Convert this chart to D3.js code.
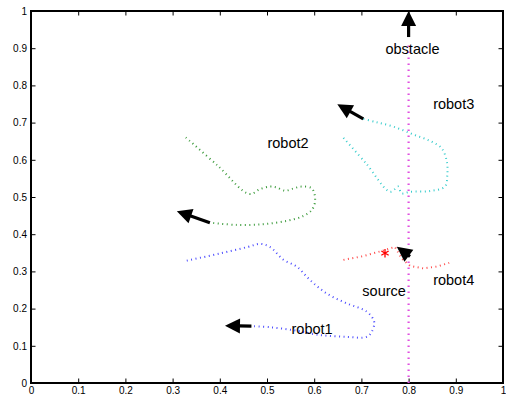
<!DOCTYPE html>
<html>
<head>
<meta charset="utf-8">
<script src="https://cdn.jsdelivr.net/npm/d3@7"></script>
<style>
  html, body { margin: 0; padding: 0; background: #fff; }
  svg { display: block; }
  text { font-family: "Liberation Sans", Arial, Helvetica, sans-serif; fill: #000; }
</style>
</head>
<body>
<svg id="chart" width="506" height="398"></svg>
<script>
// Robot trajectories in the unit field (x, y)
const robot1 = [[0.330,0.329],[0.400,0.348],[0.460,0.366],[0.485,0.374],[0.506,0.366],[0.535,0.331],
  [0.563,0.313],[0.591,0.277],[0.626,0.241],[0.669,0.214],[0.711,0.192],[0.727,0.165],[0.722,0.138],
  [0.711,0.124],[0.669,0.124],[0.612,0.129],[0.556,0.142],[0.506,0.150],[0.468,0.153]];
const robot2 = [[0.328,0.660],[0.395,0.585],[0.4625,0.508],[0.485,0.521],[0.507,0.528],[0.520,0.526],
  [0.538,0.517],[0.556,0.523],[0.573,0.528],[0.595,0.523],[0.602,0.492],[0.595,0.465],[0.577,0.449],
  [0.542,0.436],[0.492,0.427],[0.436,0.425],[0.379,0.431]];
const robot3 = [[0.662,0.659],[0.710,0.590],[0.761,0.514],[0.778,0.528],[0.785,0.510],[0.803,0.514],
  [0.845,0.516],[0.877,0.528],[0.882,0.559],[0.881,0.595],[0.870,0.631],[0.845,0.651],[0.810,0.668],
  [0.768,0.689],[0.732,0.701],[0.704,0.710]];
const robot4 = [[0.662,0.331],[0.704,0.341],[0.746,0.356],[0.771,0.366],[0.785,0.335],[0.803,0.315],
  [0.831,0.308],[0.860,0.313],[0.886,0.323]];

// Obstacle: vertical line at x = 0.8
const obstacleX = 0.8;
const obstacleY = [0, 0.915];

// Source location
const source = [0.75, 0.349];

// Heading arrows: [tailX, tailY, tipX, tipY]
const arrows = [
  [0.467, 0.153, 0.411, 0.154],
  [0.379, 0.431, 0.309, 0.462],
  [0.704, 0.710, 0.649, 0.749],
  [0.803, 0.340, 0.775, 0.366],
  [0.800, 0.930, 0.800, 1.000]
];

// Text labels (left edge x, vertical centre y)
const labelText = ["obstacle", "robot3", "robot2", "robot1", "source", "robot4"];
const labelX = [0.751, 0.852, 0.501, 0.552, 0.702, 0.852];
const labelY = [0.898, 0.749, 0.646, 0.145, 0.247, 0.276];

// Axis ticks
const xTicks = [0, 0.1, 0.2, 0.3, 0.4, 0.5, 0.6, 0.7, 0.8, 0.9, 1];
const yTicks = [0, 0.1, 0.2, 0.3, 0.4, 0.5, 0.6, 0.7, 0.8, 0.9, 1];

const svg = d3.select("#chart");
const plotLeft = 31, plotRight = 503, plotTop = 11, plotBottom = 383;

const x = d3.scaleLinear().domain([0, 1]).range([plotLeft, plotRight]);
const y = d3.scaleLinear().domain([0, 1]).range([plotBottom, plotTop]);

const fmt = d => (d === 0 || d === 1) ? String(d) : d.toFixed(1);

// Axes with inward ticks (box on all four sides)
const tickLen = 4.5;
svg.append("g").attr("transform", `translate(0,${plotBottom})`)
  .call(d3.axisBottom(x).tickValues(xTicks).tickFormat(fmt).tickSizeInner(-tickLen).tickSizeOuter(0).tickPadding(4))
  .call(g => g.select(".domain").remove())
  .call(g => g.selectAll("text").attr("font-size", 10).attr("font-family", "Liberation Sans, Arial, sans-serif"));
svg.append("g").attr("transform", `translate(0,${plotTop})`)
  .call(d3.axisTop(x).tickValues(xTicks).tickFormat("").tickSizeInner(-tickLen).tickSizeOuter(0))
  .call(g => g.select(".domain").remove());
svg.append("g").attr("transform", `translate(${plotLeft},0)`)
  .call(d3.axisLeft(y).tickValues(yTicks).tickFormat(fmt).tickSizeInner(-tickLen).tickSizeOuter(0).tickPadding(4))
  .call(g => g.select(".domain").remove())
  .call(g => g.selectAll("text").attr("font-size", 10).attr("font-family", "Liberation Sans, Arial, sans-serif"));
svg.append("g").attr("transform", `translate(${plotRight},0)`)
  .call(d3.axisRight(y).tickValues(yTicks).tickFormat("").tickSizeInner(-tickLen).tickSizeOuter(0))
  .call(g => g.select(".domain").remove());

svg.selectAll(".tick line").attr("stroke", "#000").attr("stroke-width", 1);

// Frame
svg.append("path")
  .attr("d", `M${plotLeft},${plotTop}H${plotRight}V${plotBottom}H${plotLeft}Z`)
  .attr("fill", "none").attr("stroke", "#000").attr("stroke-width", 2);

// Dotted lines
const line = d3.line().x(d => x(d[0])).y(d => y(d[1]));
const smooth = d3.line().x(d => x(d[0])).y(d => y(d[1])).curve(d3.curveCatmullRom.alpha(0.5));

svg.append("line")
  .attr("x1", x(obstacleX)).attr("x2", x(obstacleX))
  .attr("y1", y(obstacleY[0])).attr("y2", y(obstacleY[1]))
  .attr("stroke", "#e04ee0").attr("stroke-width", 2.2).attr("stroke-dasharray", "1.6 4.4");

const trails = [
  { pts: robot1, color: "#4b4bff", gen: smooth },
  { pts: robot2, color: "#3a9a3a", gen: smooth },
  { pts: robot3, color: "#36cccc", gen: smooth },
  { pts: robot4, color: "#ff4848", gen: line }
];
svg.selectAll("path.trail").data(trails).join("path")
  .attr("class", "trail")
  .attr("d", d => d.gen(d.pts))
  .attr("fill", "none")
  .attr("stroke", d => d.color)
  .attr("stroke-width", 2)
  .attr("stroke-dasharray", "1 3.5");

// Source marker
svg.append("path")
  .attr("transform", `translate(${x(source[0])},${y(source[1])})`)
  .attr("d", d3.symbol().type(d3.symbolAsterisk).size(50)())
  .attr("fill", "none").attr("stroke", "#ff0000").attr("stroke-width", 1.3);

// Heading arrows
const headLen = 15, headHalf = 7.5;
arrows.forEach(a => {
  const x0 = x(a[0]), y0 = y(a[1]), x1 = x(a[2]), y1 = y(a[3]);
  const dx = x1 - x0, dy = y1 - y0, L = Math.hypot(dx, dy);
  const ux = dx / L, uy = dy / L;
  const bx = x1 - ux * headLen, by = y1 - uy * headLen;
  svg.append("line")
    .attr("x1", x0).attr("y1", y0).attr("x2", bx + ux).attr("y2", by + uy)
    .attr("stroke", "#000").attr("stroke-width", 3.2);
  svg.append("path")
    .attr("d", `M${x1},${y1}L${bx - uy * headHalf},${by + ux * headHalf}L${bx + uy * headHalf},${by - ux * headHalf}Z`)
    .attr("fill", "#000");
});

// Labels
svg.selectAll("text.lbl").data(labelText).join("text")
  .attr("class", "lbl")
  .attr("x", (d, i) => x(labelX[i]))
  .attr("y", (d, i) => y(labelY[i]))
  .attr("dy", "0.35em")
  .attr("font-size", 14.5)
  .text(d => d);
</script>
</body>
</html>
